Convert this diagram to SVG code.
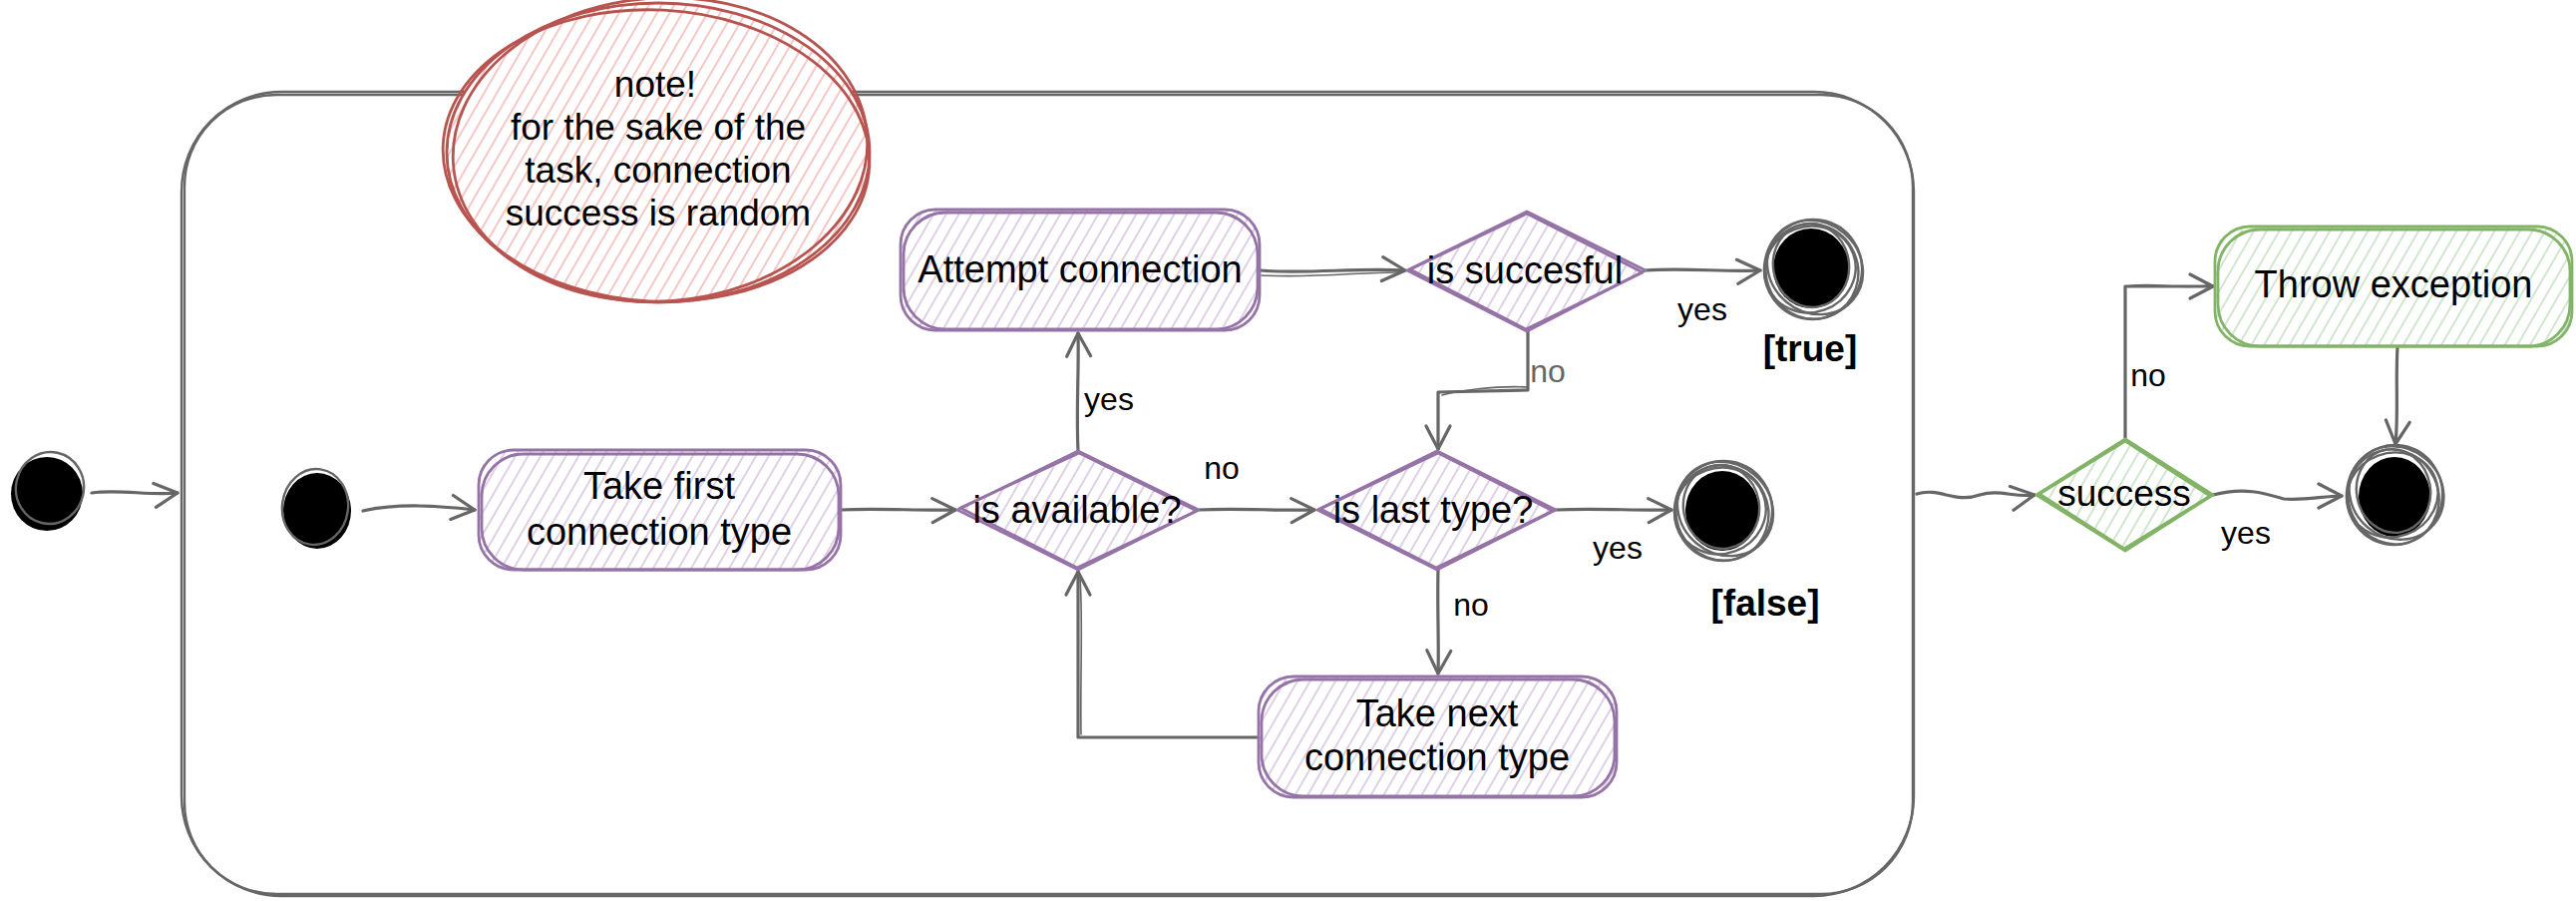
<svg xmlns="http://www.w3.org/2000/svg" width="2583" height="903" viewBox="0 0 2583 903">
<style>
.t{font-family:"Liberation Sans",Arial,sans-serif;font-size:38px;fill:#000;text-anchor:middle}
.nt{font-size:37px}
.lb{font-family:"Liberation Sans",Arial,sans-serif;font-size:32px;fill:#000;text-anchor:middle}
.bd{font-family:"Liberation Sans",Arial,sans-serif;font-size:37px;font-weight:bold;fill:#000;text-anchor:middle}
.pS{fill:none;stroke:#9673a6;stroke-width:2.8;stroke-linejoin:round}
.gS{fill:none;stroke:#82b366;stroke-width:2.8;stroke-linejoin:round}
.rS{fill:none;stroke:#b85450;stroke-width:2.8}
.pF{fill:url(#hP);stroke:none}
.gF{fill:url(#hG);stroke:none}
.c{fill:none;stroke:#666;stroke-width:3.2;stroke-linecap:round;stroke-linejoin:round}
.c2{fill:none;stroke:#666;stroke-width:1.6;stroke-linecap:round}
.ca{marker-end:url(#arr)}
.scr{fill:none;stroke:#666;stroke-width:2.4}
.box{fill:none;stroke:#666;stroke-width:2.4}
</style>
<defs>
<pattern id="hP" width="11" height="11" patternUnits="userSpaceOnUse" patternTransform="rotate(30)"><line x1="5" y1="0" x2="5" y2="11" stroke="#d9c8e2" stroke-width="1.7"/></pattern>
<pattern id="hG" width="11" height="11" patternUnits="userSpaceOnUse" patternTransform="rotate(30)"><line x1="5" y1="0" x2="5" y2="11" stroke="#c9e2c6" stroke-width="1.7"/></pattern>
<pattern id="hR" width="11" height="11" patternUnits="userSpaceOnUse" patternTransform="rotate(30)"><line x1="5" y1="0" x2="5" y2="11" stroke="#f3bebb" stroke-width="1.7"/></pattern>
<marker id="arr" markerUnits="userSpaceOnUse" markerWidth="30" markerHeight="30" refX="26" refY="15" orient="auto"><path d="M3,3 L26,15 L3,27" fill="none" stroke="#666" stroke-width="3.2" stroke-linecap="round" stroke-linejoin="round"/></marker>
</defs>
<rect width="2583" height="903" fill="#fff"/>

<g id="container">
<rect class="box" x="182" y="92" width="1737" height="806" rx="100"/>
<rect class="box" x="185" y="95" width="1733" height="801" rx="92"/>
</g>

<g id="note">
<ellipse cx="660" cy="153" rx="212" ry="150" fill="#fff"/>
<ellipse cx="660" cy="153" rx="212" ry="150" fill="url(#hR)"/>
<ellipse class="rS" cx="660" cy="153" rx="212" ry="150"/>
<ellipse class="rS" cx="662" cy="150" rx="208" ry="152" transform="rotate(-4 662 150)"/>
<ellipse class="rS" cx="658" cy="156" rx="214" ry="146" transform="rotate(3 658 156)"/>
<text class="t nt" x="657" y="97">note!</text>
<text class="t nt" x="660" y="140">for the sake of the</text>
<text class="t nt" x="660" y="183">task, connection</text>
<text class="t nt" x="660" y="226">success is random</text>
</g>

<g id="connectors">
<path class="c ca" d="M92,494 C120,490 150,497 178,494"/>
<path class="c ca" d="M364,512 C400,504 440,507 476,511"/>
<path class="c ca" d="M843,511 C880,509 920,512 958,511"/>
<path class="c ca" d="M1081,452 C1079,410 1082,370 1081,334"/>
<path class="c ca" d="M1202,511 C1240,509 1280,512 1318,511"/>
<path class="c ca" d="M1263,271 C1310,275 1360,268 1409,271"/>
<path class="c2" d="M1265,276 C1320,279 1370,272 1405,273"/>
<path class="c ca" d="M1650,271 C1690,268 1730,273 1765,271"/>
<path class="c ca" d="M1532,332 L1532,391 L1442,393 L1442,450"/>
<path class="c2" d="M1532,388 C1500,386 1460,392 1446,396"/>
<path class="c ca" d="M1560,511 C1600,509 1640,512 1676,511"/>
<path class="c ca" d="M1442,571 C1441,610 1443,645 1442,675"/>
<path class="c ca" d="M1262,739 L1081,739 L1081,573"/>
<path class="c2" d="M1084,736 C1083,680 1086,620 1083,580"/>
<path class="c ca" d="M1922,495 C1945,488 1960,505 1985,496 C2005,490 2020,499 2040,496"/>
<path class="c ca" d="M2131,440 L2131,287 L2219,287"/>
<path class="c2" d="M2133,287 C2160,282 2190,291 2214,286"/>
<path class="c ca" d="M2219,496 C2250,488 2270,494 2290,500 C2310,502 2330,497 2348,497"/>
<path class="c ca" d="M2404,348 C2402,380 2405,415 2402,445"/>
</g>

<g id="labels">
<text class="lb" x="1112" y="411">yes</text>
<text class="lb" x="1225" y="480">no</text>
<text class="lb" x="1707" y="321">yes</text>
<text class="lb" x="1552" y="383" style="fill:#666">no</text>
<text class="lb" x="1622" y="560">yes</text>
<text class="lb" x="1475" y="617">no</text>
<text class="lb" x="2154" y="387">no</text>
<text class="lb" x="2252" y="545">yes</text>
</g>

<g id="start-outer">
<ellipse cx="47" cy="495" rx="36" ry="37" fill="#000"/>
<ellipse class="scr" cx="50" cy="489" rx="34" ry="36" transform="rotate(12 50 489)"/>
</g>

<g id="start-inner">
<ellipse cx="318" cy="512" rx="34" ry="38" fill="#000"/>
<ellipse class="scr" cx="316" cy="508" rx="33" ry="38" transform="rotate(8 316 508)"/>
</g>

<g id="take-first">
<rect class="pF" x="480" y="451" width="363" height="120" rx="35"/>
<rect class="pS" x="480" y="451" width="363" height="120" rx="35"/>
<rect class="pS" x="483" y="455" width="358" height="116" rx="42"/>
<text class="t" x="661" y="500">Take first</text>
<text class="t" x="661" y="546">connection type</text>
</g>

<g id="attempt">
<rect class="pF" x="903" y="210" width="360" height="121" rx="35"/>
<rect class="pS" x="903" y="210" width="360" height="121" rx="35"/>
<rect class="pS" x="906" y="213" width="355" height="117" rx="42"/>
<text class="t" x="1083" y="283">Attempt connection</text>
</g>

<g id="is-succesful">
<polygon class="pF" points="1411,271 1531,212 1650,271 1531,332"/>
<polygon class="pS" points="1411,271 1531,212 1650,271 1531,332"/>
<polygon class="pS" points="1414,270 1531,214 1647,273 1530,330"/>
<text class="t" x="1529" y="284">is succesful</text>
</g>

<g id="is-available">
<polygon class="pF" points="960,511 1081,452 1202,511 1081,571"/>
<polygon class="pS" points="960,511 1081,452 1202,511 1081,571"/>
<polygon class="pS" points="963,509 1082,454 1200,512 1080,569"/>
<text class="t" x="1080" y="524">is available?</text>
</g>

<g id="is-last">
<polygon class="pF" points="1321,511 1441,452 1560,511 1441,571"/>
<polygon class="pS" points="1321,511 1441,452 1560,511 1441,571"/>
<polygon class="pS" points="1324,510 1442,454 1557,512 1440,569"/>
<text class="t" x="1437" y="524">is last type?</text>
</g>

<g id="take-next">
<rect class="pF" x="1262" y="678" width="359" height="121" rx="35"/>
<rect class="pS" x="1262" y="678" width="359" height="121" rx="35"/>
<rect class="pS" x="1265" y="681" width="354" height="117" rx="42"/>
<text class="t" x="1441" y="728">Take next</text>
<text class="t" x="1441" y="772">connection type</text>
</g>

<g id="end-true">
<ellipse cx="1816" cy="269" rx="38" ry="40" fill="#000"/>
<ellipse class="scr" cx="1818" cy="270" rx="49" ry="50" transform="rotate(10 1818 270)"/>
<ellipse class="scr" cx="1817" cy="272" rx="46" ry="48" transform="rotate(-25 1817 272)"/>
<ellipse class="scr" cx="1820" cy="268" rx="50" ry="45" transform="rotate(40 1820 268)"/>
<ellipse class="scr" cx="1815" cy="270" rx="43" ry="46" transform="rotate(70 1815 270)"/>
<ellipse class="scr" cx="1816" cy="266" rx="38" ry="42" transform="rotate(-10 1816 266)"/>
<text class="bd" x="1815" y="362">[true]</text>
</g>

<g id="end-false">
<ellipse cx="1727" cy="512" rx="37" ry="40" fill="#000"/>
<ellipse class="scr" cx="1728" cy="512" rx="49" ry="50" transform="rotate(10 1728 512)"/>
<ellipse class="scr" cx="1727" cy="514" rx="46" ry="48" transform="rotate(-25 1727 514)"/>
<ellipse class="scr" cx="1730" cy="510" rx="50" ry="45" transform="rotate(40 1730 510)"/>
<ellipse class="scr" cx="1725" cy="512" rx="43" ry="46" transform="rotate(70 1725 512)"/>
<ellipse class="scr" cx="1726" cy="508" rx="38" ry="42" transform="rotate(-10 1726 508)"/>
<text class="bd" x="1770" y="617">[false]</text>
</g>

<g id="success">
<polygon class="gF" points="2042,496 2131,440 2219,496 2131,552"/>
<polygon class="gS" points="2042,496 2131,440 2219,496 2131,552"/>
<polygon class="gS" points="2045,495 2131,442 2216,497 2130,550"/>
<text class="t" x="2130" y="507" style="font-size:37px">success</text>
</g>

<g id="throw">
<rect class="gF" x="2221" y="227" width="358" height="120" rx="35"/>
<rect class="gS" x="2221" y="227" width="358" height="120" rx="35"/>
<rect class="gS" x="2224" y="230" width="353" height="117" rx="42"/>
<text class="t" x="2400" y="298">Throw exception</text>
</g>

<g id="end-final">
<ellipse cx="2401" cy="498" rx="36" ry="40" fill="#000"/>
<ellipse class="scr" cx="2401" cy="496" rx="48" ry="50" transform="rotate(10 2401 496)"/>
<ellipse class="scr" cx="2400" cy="498" rx="45" ry="48" transform="rotate(-25 2400 498)"/>
<ellipse class="scr" cx="2403" cy="494" rx="49" ry="45" transform="rotate(40 2403 494)"/>
<ellipse class="scr" cx="2399" cy="496" rx="42" ry="46" transform="rotate(70 2399 496)"/>
<ellipse class="scr" cx="2400" cy="492" rx="37" ry="42" transform="rotate(-10 2400 492)"/>
</g>
</svg>
